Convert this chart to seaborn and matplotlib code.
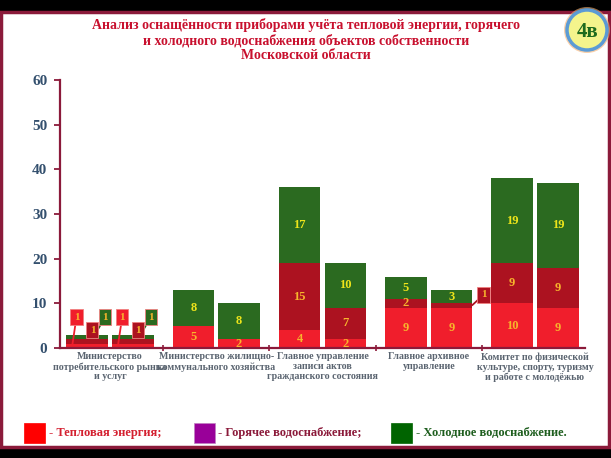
import matplotlib
matplotlib.use("Agg")
import matplotlib.pyplot as plt
from matplotlib.patches import Rectangle, Ellipse
import seaborn as sns
import pandas as pd
import numpy as np

# ---------------- data ----------------
categories = [
    "Министерство\nпотребительского рынка\nи услуг",
    "Министерство жилищно-\nкоммунального хозяйства",
    "Главное управление\nзаписи актов\nгражданского состояния",
    "Главное архивное\nуправление",
    "Комитет по физической\nкультуре, спорту, туризму\nи работе с молодёжью",
]
bars = ["A", "B"]
heat_a = [1, 5, 4, 9, 10]
hot_a = [1, 0, 15, 2, 9]
cold_a = [1, 8, 17, 5, 19]
heat_b = [1, 2, 2, 9, 9]
hot_b = [1, 0, 7, 1, 9]
cold_b = [1, 8, 10, 3, 19]

title_text = ("Анализ оснащённости приборами учёта тепловой энергии, горячего\n"
              "и холодного водоснабжения объектов собственности\n"
              "Московской области")
legend_labels = ["- Тепловая энергия;", "- Горячее водоснабжение;", "- Холодное водоснабжение."]
badge_text = "4в"
yticks = [0, 10, 20, 30, 40, 50, 60]

# ---------------- styles ----------------
C_HEAT = "#F01E2C"
C_HOT = "#AC1220"
C_COLD = "#2B6A20"
LEG_COLORS = ["#FF0000", "#990099", "#006400"]
LEG_TEXT = ["#D42030", "#8B1A3A", "#1E5E1E"]
FRAME = "#8B1A3A"

sns.set_theme(style="white")
plt.rcParams["font.family"] = ["Liberation Serif", "DejaVu Serif"]

rows = []
for i, c in enumerate(categories):
    for b, (h, w, k) in zip(bars, [(heat_a[i], hot_a[i], cold_a[i]), (heat_b[i], hot_b[i], cold_b[i])]):
        rows.append(dict(cat=c, bar=b, heat=h, hot=w, cold=k,
                         heat_hot=h + w, total=h + w + k))
df = pd.DataFrame(rows)

W, H = 611, 458
fig = plt.figure(figsize=(W / 100, H / 100), dpi=100)
fig.patch.set_facecolor("black")

def fx(px):
    return px / W

def fy(py):
    return (H - py) / H

# slide frame (behind everything)
fig.patches.append(Rectangle((fx(1), fy(447)), fx(608), (447 - 12) / H, transform=fig.transFigure,
                             facecolor="white", edgecolor=FRAME, linewidth=2.5, zorder=-5))

ax = fig.add_axes([fx(60), fy(348), 525 / W, 268 / H])
ax.set_facecolor("none")
ax.set_zorder(1)

BW_TOTAL = 0.86
GAP = 0.09
for col, color in [("total", C_COLD), ("heat_hot", C_HOT), ("heat", C_HEAT)]:
    sns.barplot(data=df, x="cat", y=col, hue="bar", hue_order=bars, order=categories,
                palette=[color, color], width=BW_TOTAL, gap=GAP, dodge=True,
                saturation=1, legend=False, linewidth=0, errorbar=None, ax=ax)

ax.set_xlim(-0.47, 4.47)
ax.set_ylim(0, 60)
ax.set_xlabel("")
ax.set_ylabel("")

for s in ["top", "right"]:
    ax.spines[s].set_visible(False)
for s in ["left", "bottom"]:
    ax.spines[s].set_color(FRAME)
    ax.spines[s].set_linewidth(1.6)

ax.set_yticks(yticks)
ax.set_yticklabels([str(v) for v in yticks], fontsize=11, fontweight="bold", color="#34506E")
ax.tick_params(axis="y", direction="out", length=4, width=1.3, color=FRAME, pad=5, left=True)
ax.set_xticks(range(len(categories)))
ax.set_xticklabels(categories, fontsize=7.2, fontweight="bold", color="#5A6470", linespacing=1.12)
ax.tick_params(axis="x", which="major", length=0, pad=3)
ax.set_xticks([0.5, 1.5, 2.5, 3.5], minor=True)
ax.tick_params(axis="x", which="minor", length=4, width=1.2, color=FRAME, direction="inout", bottom=True)
ax.grid(False)

# ---------------- value labels ----------------
offs = BW_TOTAL / 4
YEL = "#EEE41A"
ORG = "#F7B52C"
series = [(heat_a, hot_a, cold_a), (heat_b, hot_b, cold_b)]
for j, (hs, ws, ks) in enumerate(series):
    dx = -offs if j == 0 else offs
    for i in range(len(categories)):
        base = 0
        for v, col in zip((hs[i], ws[i], ks[i]), (ORG, ORG, YEL)):
            if v >= 2:
                ax.text(i + dx, base + v / 2, str(v), ha="center", va="center",
                        fontsize=9, fontweight="bold", color=col, zorder=5)
            base += v

# callouts for small values (value == 1)
def callout(x, y, tx, ty, text, fc):
    ax.plot([x, tx], [y, ty], color=fc, lw=1.3, zorder=6, solid_capstyle="butt")
    ax.text(x, y, text, ha="center", va="center", fontsize=8, fontweight="bold", color=ORG,
            zorder=7, bbox=dict(boxstyle="square,pad=0.3", fc=fc, ec="#F08080", lw=0.6))

for j, (hs, ws, ks) in enumerate(series):
    cx = -offs if j == 0 else offs
    h, w, k = hs[0], ws[0], ks[0]
    callout(cx - 0.10, 6.9, cx - 0.14, h / 2, str(h), C_HEAT)
    callout(cx + 0.05, 4.0, cx + 0.0, h + w / 2, str(w), C_HOT)
    callout(cx + 0.17, 6.9, cx + 0.06, h + w + k / 2, str(k), C_COLD)

callout(3 + offs + 0.30, 11.9, 3 + offs + 0.19, heat_b[3] + hot_b[3] / 2, str(hot_b[3]), C_HOT)

# ---------------- title ----------------
fig.text(fx(306), fy(40), title_text, ha="center", va="center", fontsize=10,
         fontweight="bold", color="#C8102E", linespacing=1.2)

# ---------------- legend ----------------
sq_x = [24, 194, 391]
tx_x = [49, 218, 416]
for lab, c, tc, sx, tx in zip(legend_labels, LEG_COLORS, LEG_TEXT, sq_x, tx_x):
    fig.patches.append(Rectangle((fx(sx), fy(443)), 21 / W, 20 / H, transform=fig.transFigure,
                                 facecolor=c, edgecolor="#C080C0" if c == "#990099" else c,
                                 linewidth=0.5, zorder=2))
    fig.text(fx(tx), fy(433), lab, ha="left", va="center", fontsize=9, fontweight="bold", color=tc)

# ---------------- badge ----------------
bcx, bcy, r = 587, 30, 20
fig.patches.append(Ellipse((fx(bcx), fy(bcy)), 2 * (r + 3) / W, 2 * (r + 3) / H, transform=fig.transFigure,
                           facecolor="#F5B070", edgecolor="none", alpha=0.6, zorder=3))
fig.patches.append(Ellipse((fx(bcx), fy(bcy)), 2 * r / W, 2 * r / H, transform=fig.transFigure,
                           facecolor="#F4F48C", edgecolor="#5B9BD5", linewidth=2.5, zorder=4))
fig.text(fx(588), fy(32), badge_text, ha="center", va="center", fontsize=15,
         fontweight="bold", color="#1E6B1E", zorder=5)

fig.savefig("out.png", dpi=100, facecolor=fig.get_facecolor())
